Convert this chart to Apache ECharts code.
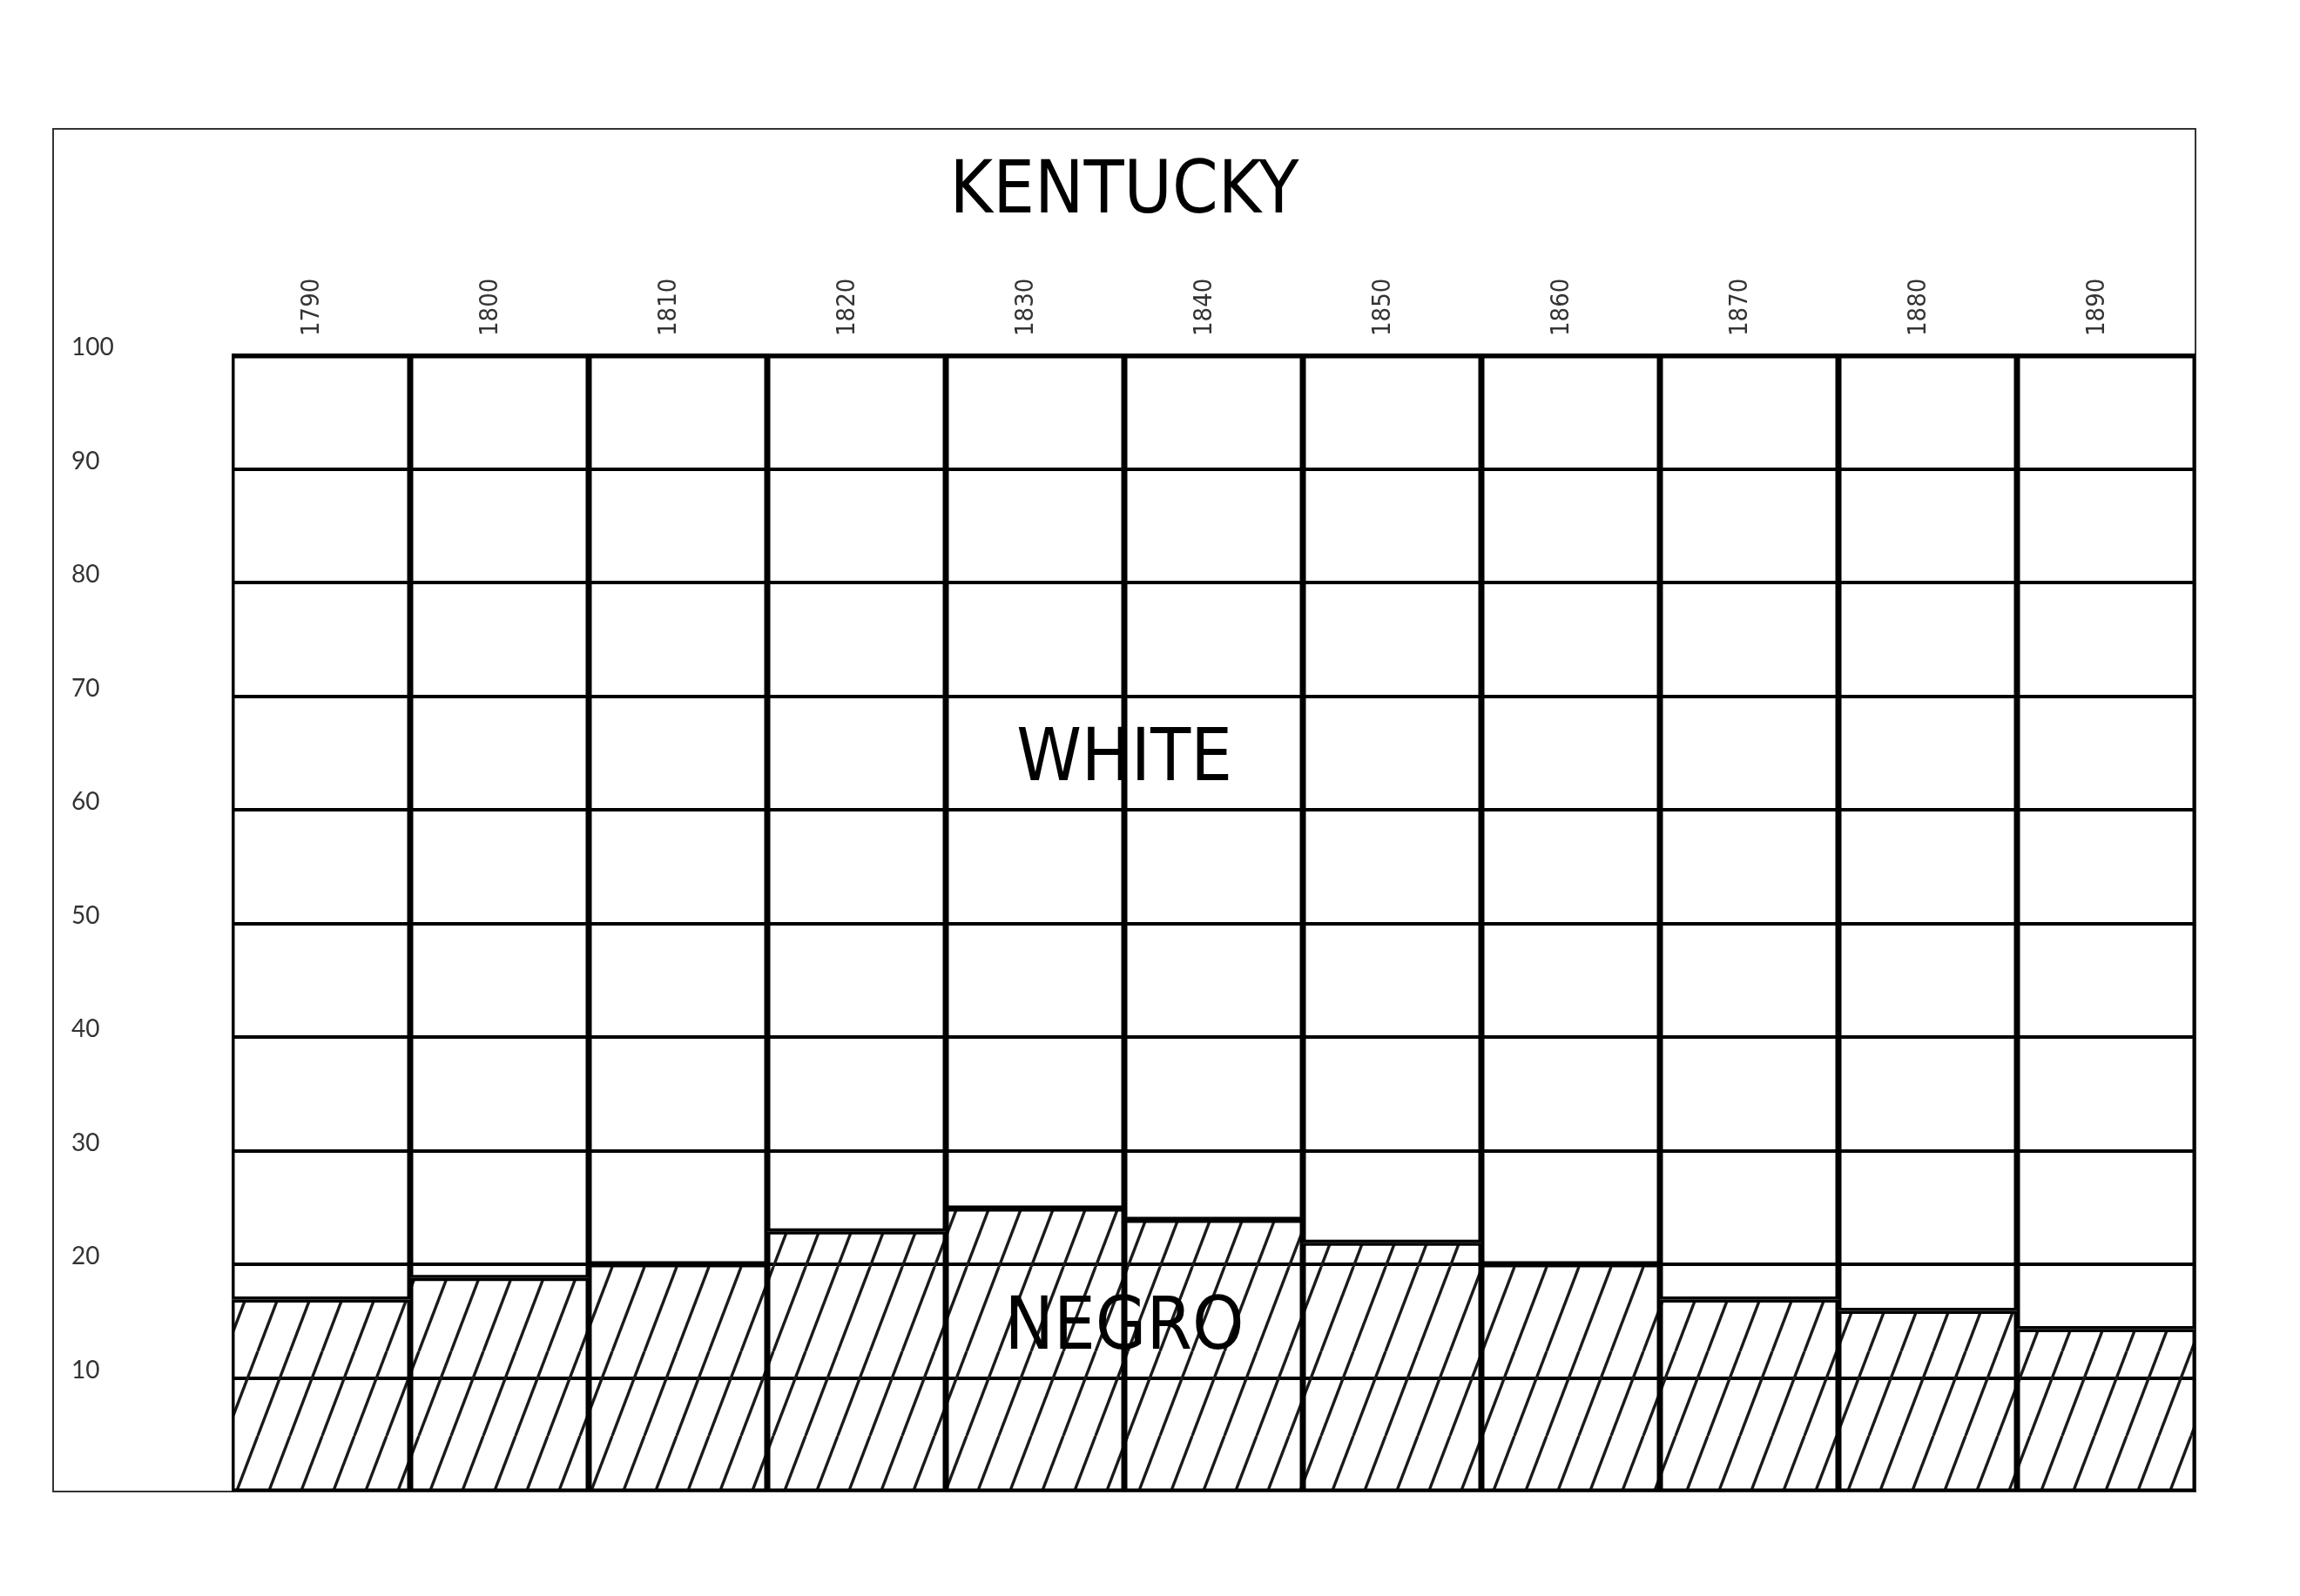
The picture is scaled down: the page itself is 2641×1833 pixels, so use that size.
<!DOCTYPE html>
<html>
<head>
<meta charset="utf-8">
<style>html,body{margin:0;padding:0;background:#fff;}#chart{width:2641px;height:1833px;}</style>
<script src="https://cdn.jsdelivr.net/npm/echarts@6/dist/echarts.min.js"></script>
</head>
<body>
<div id="chart"></div>
<script>
const years = ['1790','1800','1810','1820','1830','1840','1850','1860','1870','1880','1890'];
const negro = [16.9, 18.8, 20.0, 22.9, 24.9, 23.9, 21.9, 20.0, 16.9, 15.9, 14.3];
const white = [83.1, 81.2, 80.0, 77.1, 75.1, 76.1, 78.1, 80.0, 83.1, 84.1, 85.7];
const titleText = 'KENTUCKY';
const whiteLabel = 'WHITE';
const negroLabel = 'NEGRO';

// hatch tile
const tileW = 37, tileH = 97;
const tile = document.createElement('canvas');
tile.width = tileW; tile.height = tileH;
const ctx = tile.getContext('2d');
ctx.strokeStyle = '#1a1a1a';
ctx.lineWidth = 3.4;
for (let k = -1; k <= 1; k++) {
  ctx.beginPath();
  ctx.moveTo(k * tileW, tileH);
  ctx.lineTo((k + 1) * tileW, 0);
  ctx.stroke();
}

const chart = echarts.init(document.getElementById('chart'), null, {renderer: 'canvas'});
chart.setOption({
  backgroundColor: '#fff',
  animation: false,
  grid: {left: 266, right: 120, top: 408, bottom: 120, containLabel: false},
  xAxis: {
    type: 'category',
    position: 'top',
    data: years,
    axisLine: {show: false},
    axisTick: {show: false},
    axisLabel: {rotate: 90, margin: 22, fontFamily: 'DejaVu Sans Condensed', fontSize: 29, color: '#333',
                interval: 0, verticalAlign: 'bottom', lineHeight: 20}
  },
  yAxis: {
    type: 'value',
    min: 0, max: 100, interval: 10,
    axisLine: {show: false},
    axisTick: {show: false},
    splitLine: {show: true, showMinLine: false, lineStyle: {color: '#000', width: 4}},
    axisLabel: {
      align: 'left', margin: 184, fontFamily: 'Lato', fontSize: 28, color: '#333',
      verticalAlign: 'bottom', lineHeight: 18,
      formatter: v => (v === 0 ? '' : String(v))
    }
  },
  series: [
    {
      name: 'Negro', type: 'bar', stack: 'pop', data: negro,
      barCategoryGap: 0, barGap: 0,
      itemStyle: {color: {image: tile, repeat: 'repeat'}, borderColor: '#000', borderWidth: 3.5}
    },
    {
      name: 'White', type: 'bar', stack: 'pop', data: white,
      barCategoryGap: 0, barGap: 0,
      itemStyle: {color: 'rgba(255,255,255,0)', borderColor: '#000', borderWidth: 3.5}
    }
  ],
  graphic: [
    {type: 'rect', z: 0, shape: {x: 61, y: 148, width: 2460, height: 1565},
     style: {fill: 'none', stroke: '#333', lineWidth: 2}},
    {type: 'text', z: 100, x: 1291, y: 222,
     style: {text: titleText, fontFamily: 'DejaVu Sans Condensed', fontSize: 84, fill: '#000', textAlign: 'center', textVerticalAlign: 'middle'}},
    {type: 'text', z: 100, x: 1291, y: 874,
     style: {text: whiteLabel, fontFamily: 'DejaVu Sans Condensed', fontSize: 84, fill: '#000', textAlign: 'center', textVerticalAlign: 'middle'}},
    {type: 'text', z: 100, x: 1291, y: 1527,
     style: {text: negroLabel, fontFamily: 'DejaVu Sans Condensed', fontSize: 84, fill: '#000', textAlign: 'center', textVerticalAlign: 'middle'}}
  ]
});
</script>
</body>
</html>
